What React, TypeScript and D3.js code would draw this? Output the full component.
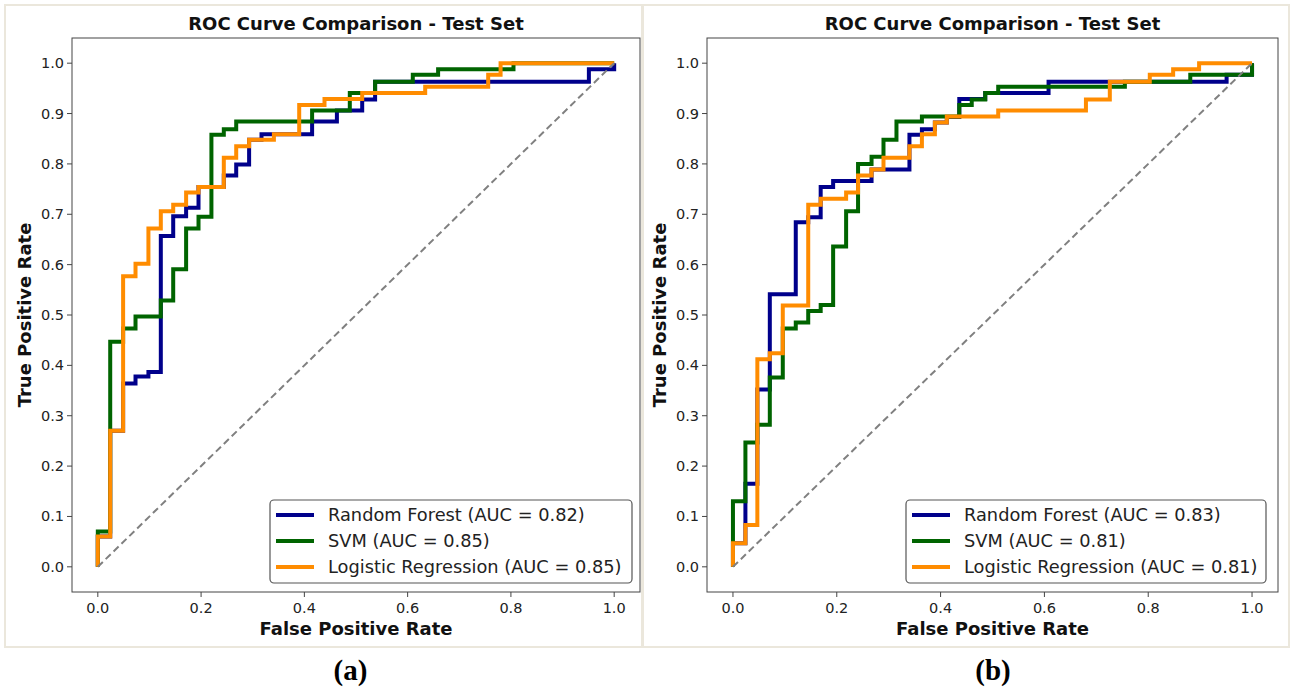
import React from 'react';
import * as d3 from 'd3';

// ---------- data ----------
const seriesNames = ['Random Forest', 'SVM', 'Logistic Regression'];
const seriesColors = ['#00008b', '#006400', '#ff8c00'];
const xTickValues = [0, 0.2, 0.4, 0.6, 0.8, 1.0];
const yTickValues = [0, 0.1, 0.2, 0.3, 0.4, 0.5, 0.6, 0.7, 0.8, 0.9, 1.0];

const aucA = [0.82, 0.85, 0.85];
const aucB = [0.83, 0.81, 0.81];

// Panel (a)
const rfFprA = [0, 0, 0.024, 0.049, 0.073, 0.098, 0.122, 0.146, 0.171, 0.195, 0.244, 0.268, 0.293, 0.317, 0.415, 0.463, 0.512, 0.537, 0.951, 1.0];
const rfTprA = [0, 0.06, 0.27, 0.364, 0.378, 0.387, 0.657, 0.696, 0.713, 0.754, 0.777, 0.799, 0.848, 0.859, 0.884, 0.906, 0.928, 0.963, 0.988, 1.0];
const svmFprA = [0, 0, 0.024, 0.049, 0.073, 0.122, 0.146, 0.171, 0.195, 0.220, 0.244, 0.268, 0.415, 0.488, 0.537, 0.610, 0.659, 0.805, 1.0];
const svmTprA = [0, 0.07, 0.447, 0.473, 0.497, 0.529, 0.591, 0.672, 0.695, 0.858, 0.869, 0.884, 0.906, 0.941, 0.963, 0.977, 0.988, 1.0, 1.0];
const lrFprA = [0, 0, 0.024, 0.049, 0.073, 0.098, 0.122, 0.146, 0.171, 0.195, 0.244, 0.268, 0.293, 0.341, 0.390, 0.439, 0.512, 0.634, 0.756, 0.780, 1.0];
const lrTprA = [0, 0.06, 0.27, 0.577, 0.602, 0.672, 0.706, 0.719, 0.743, 0.754, 0.812, 0.835, 0.848, 0.859, 0.917, 0.929, 0.941, 0.953, 0.977, 1.0, 1.0];

// Panel (b)
const rfFprB = [0, 0, 0.024, 0.047, 0.071, 0.121, 0.145, 0.169, 0.193, 0.267, 0.340, 0.364, 0.389, 0.412, 0.436, 0.486, 0.608, 0.951, 1.0];
const rfTprB = [0, 0.047, 0.165, 0.352, 0.541, 0.684, 0.694, 0.754, 0.766, 0.789, 0.858, 0.869, 0.882, 0.893, 0.929, 0.941, 0.963, 0.977, 1.0];
const svmFprB = [0, 0, 0.024, 0.047, 0.071, 0.096, 0.121, 0.145, 0.169, 0.193, 0.218, 0.241, 0.267, 0.290, 0.315, 0.364, 0.436, 0.460, 0.486, 0.511, 0.755, 0.881, 1.0];
const svmTprB = [0, 0.13, 0.247, 0.282, 0.376, 0.473, 0.485, 0.508, 0.520, 0.636, 0.706, 0.800, 0.814, 0.848, 0.884, 0.894, 0.917, 0.928, 0.941, 0.953, 0.963, 0.977, 1.0];
const lrFprB = [0, 0, 0.024, 0.047, 0.071, 0.096, 0.145, 0.169, 0.218, 0.241, 0.267, 0.290, 0.340, 0.364, 0.389, 0.412, 0.511, 0.680, 0.726, 0.803, 0.848, 0.898, 1.0];
const lrTprB = [0, 0.047, 0.083, 0.412, 0.424, 0.519, 0.719, 0.731, 0.743, 0.777, 0.789, 0.812, 0.835, 0.859, 0.882, 0.894, 0.906, 0.928, 0.963, 0.977, 0.988, 1.0, 1.0];

const titleText = 'ROC Curve Comparison - Test Set';
const xLabelText = 'False Positive Rate';
const yLabelText = 'True Positive Rate';

type Pt = [number, number];
const zip = (a: number[], b: number[]): Pt[] => a.map((v, i) => [v, b[i]]);

const FONT = '"DejaVu Sans", sans-serif';

interface PanelProps {
  box: { x0: number; x1: number; y0: number; y1: number };
  plot: { left: number; right: number; top: number; bottom: number };
  curves: Pt[][];
  aucs: number[];
  legend: { x: number; y: number; w: number; h: number };
  tag: string;
}

function Panel({ box, plot, curves, aucs, legend, tag }: PanelProps) {
  const x = d3.scaleLinear().domain([-0.05, 1.05]).range([plot.left, plot.right]);
  const y = d3.scaleLinear().domain([-0.05, 1.05]).range([plot.bottom, plot.top]);
  const line = d3
    .line<Pt>()
    .x((d) => x(d[0]))
    .y((d) => y(d[1]))
    .curve(d3.curveStepAfter);
  const diag = d3.line<Pt>().x((d) => x(d[0])).y((d) => y(d[1]));
  const cx = (plot.left + plot.right) / 2;
  const cy = (plot.top + plot.bottom) / 2;
  return (
    <g>
      <rect x={box.x0} y={box.y0} width={box.x1 - box.x0} height={box.y1 - box.y0} fill="#fff" stroke="#ebe7dc" strokeWidth={2} />
      <text x={cx} y={30} textAnchor="middle" fontFamily={FONT} fontWeight="bold" fontSize={18} fill="#111">
        {titleText}
      </text>
      {curves.map((c, i) => (
        <path key={i} d={line(c) || ''} fill="none" stroke={seriesColors[i]} strokeWidth={4} strokeLinejoin="miter" />
      ))}
      <path d={diag([[0, 0], [1, 1]]) || ''} fill="none" stroke="#808080" strokeWidth={2} strokeDasharray="7,4" />
      <rect x={plot.left} y={plot.top} width={plot.right - plot.left} height={plot.bottom - plot.top} fill="none" stroke="#444" strokeWidth={1} />
      {xTickValues.map((t) => (
        <g key={'x' + t}>
          <line x1={x(t)} x2={x(t)} y1={plot.bottom} y2={plot.bottom + 5} stroke="#444" />
          <text x={x(t)} y={plot.bottom + 21} textAnchor="middle" fontFamily={FONT} fontSize={14.5} fill="#222">
            {t.toFixed(1)}
          </text>
        </g>
      ))}
      {yTickValues.map((t) => (
        <g key={'y' + t}>
          <line x1={plot.left - 5} x2={plot.left} y1={y(t)} y2={y(t)} stroke="#444" />
          <text x={plot.left - 8} y={y(t) + 5} textAnchor="end" fontFamily={FONT} fontSize={14.5} fill="#222">
            {t.toFixed(1)}
          </text>
        </g>
      ))}
      <text x={cx} y={plot.bottom + 43} textAnchor="middle" fontFamily={FONT} fontWeight="bold" fontSize={18} fill="#111">
        {xLabelText}
      </text>
      <text
        transform={`translate(${plot.left - 41},${cy}) rotate(-90)`}
        textAnchor="middle"
        fontFamily={FONT}
        fontWeight="bold"
        fontSize={18}
        fill="#111"
      >
        {yLabelText}
      </text>
      <rect x={legend.x} y={legend.y} width={legend.w} height={legend.h} rx={4} fill="#fff" fillOpacity={0.85} stroke="#555" strokeWidth={1.2} />
      {seriesNames.map((n, i) => {
        const ly = legend.y + 15 + i * 26;
        return (
          <g key={n}>
            <line x1={legend.x + 6} x2={legend.x + 44} y1={ly} y2={ly} stroke={seriesColors[i]} strokeWidth={4} />
            <text x={legend.x + 58} y={ly + 6} fontFamily={FONT} fontSize={17.8} fill="#222">
              {`${n} (AUC = ${aucs[i].toFixed(2)})`}
            </text>
          </g>
        );
      })}
      <text x={(box.x0 + box.x1) / 2 + 27} y={680} textAnchor="middle" fontFamily='"Liberation Serif", "Times New Roman", serif' fontWeight="bold" fontSize={29} fill="#000">
        {tag}
      </text>
    </g>
  );
}

export default function App() {
  const curvesA = [zip(rfFprA, rfTprA), zip(svmFprA, svmTprA), zip(lrFprA, lrTprA)];
  const curvesB = [zip(rfFprB, rfTprB), zip(svmFprB, svmTprB), zip(lrFprB, lrTprB)];
  return (
    <svg width={1293} height={688} style={{ position: 'absolute', left: 0, top: 0, background: '#fff' }}>
      <Panel
        box={{ x0: 5, x1: 642, y0: 5, y1: 647 }}
        plot={{ left: 72, right: 640, top: 38, bottom: 592 }}
        curves={curvesA}
        aucs={aucA}
        legend={{ x: 270, y: 500, w: 362, h: 83 }}
        tag="(a)"
      />
      <Panel
        box={{ x0: 643, x1: 1289, y0: 5, y1: 647 }}
        plot={{ left: 707, right: 1278, top: 38, bottom: 592 }}
        curves={curvesB}
        aucs={aucB}
        legend={{ x: 906, y: 500, w: 360, h: 83 }}
        tag="(b)"
      />
    </svg>
  );
}
